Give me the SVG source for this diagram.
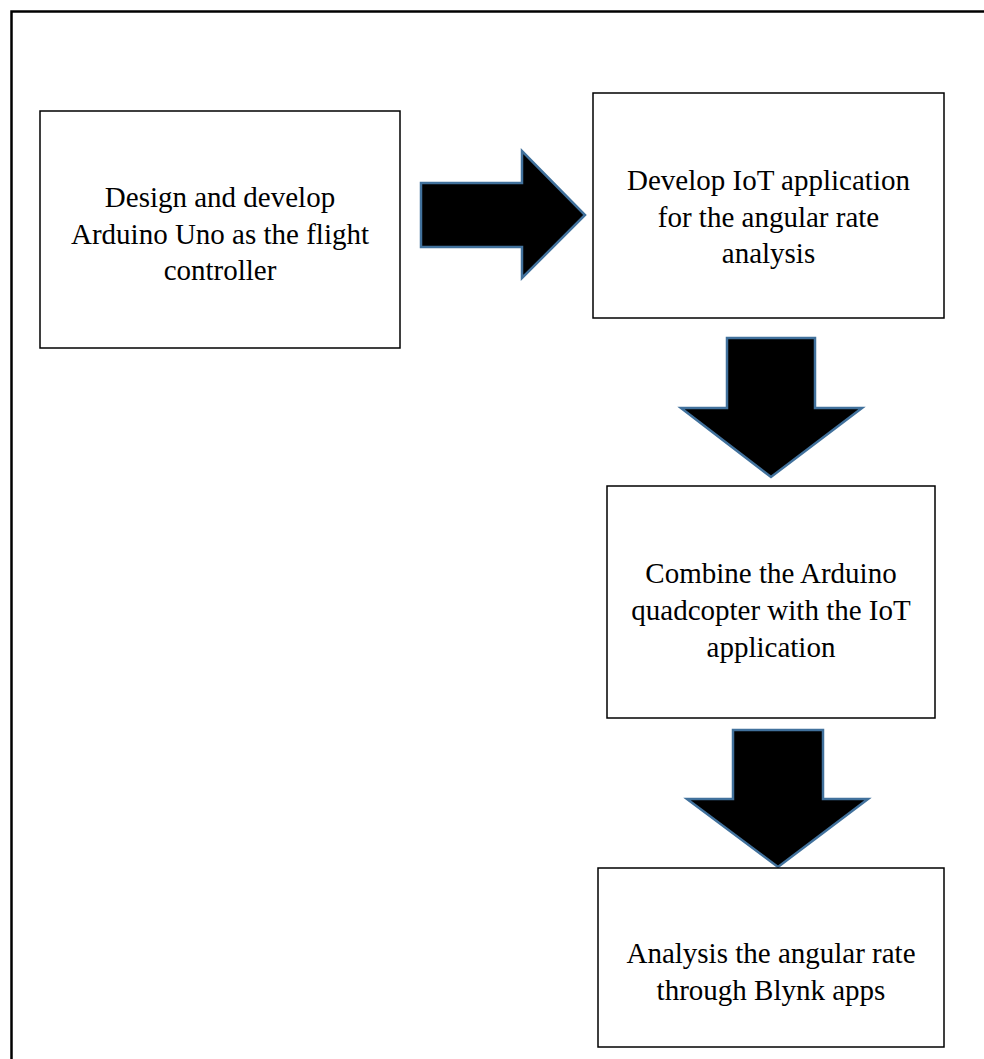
<svg xmlns="http://www.w3.org/2000/svg" width="984" height="1059" viewBox="0 0 984 1059">
<style>
.box{fill:#fff;stroke:#000;stroke-width:1.5}
.lbl{font-family:"Liberation Serif","Times New Roman",serif;font-size:29px;fill:#000;text-anchor:middle}
.arr{fill:#000;stroke:#41719C;stroke-width:2.5;stroke-linejoin:miter}
</style>
<rect x="0" y="0" width="984" height="1059" fill="#fff"/>
<path d="M11.5 1059 V11.5 H990" fill="none" stroke="#000" stroke-width="2.5"/>
<g id="connectors">
<polygon class="arr" points="421,183 522,183 522,151 585,215 522,278 522,247 421,247"/>
<polygon class="arr" points="727,338 815,338 815,408 862,408 771,477 681,408 727,408"/>
<polygon class="arr" points="733,730 823,730 823,799 868,799 778,867 687,799 733,799"/>
</g>
<g id="node1">
<rect class="box" x="40" y="111" width="360" height="237"/>
<text class="lbl" x="220" y="207">Design and develop</text>
<text class="lbl" x="220" y="243.5">Arduino Uno as the flight</text>
<text class="lbl" x="220" y="280">controller</text>
</g>
<g id="node2">
<rect class="box" x="593" y="93" width="351" height="225"/>
<text class="lbl" x="768.5" y="190">Develop IoT application</text>
<text class="lbl" x="768.5" y="226.5">for the angular rate</text>
<text class="lbl" x="768.5" y="263">analysis</text>
</g>
<g id="node3">
<rect class="box" x="607" y="486" width="328" height="232"/>
<text class="lbl" x="771" y="583">Combine the Arduino</text>
<text class="lbl" x="771" y="620">quadcopter with the IoT</text>
<text class="lbl" x="771" y="657">application</text>
</g>
<g id="node4">
<rect class="box" x="598" y="868" width="346" height="179"/>
<text class="lbl" x="771" y="963">Analysis the angular rate</text>
<text class="lbl" x="771" y="1000">through Blynk apps</text>
</g>
</svg>
